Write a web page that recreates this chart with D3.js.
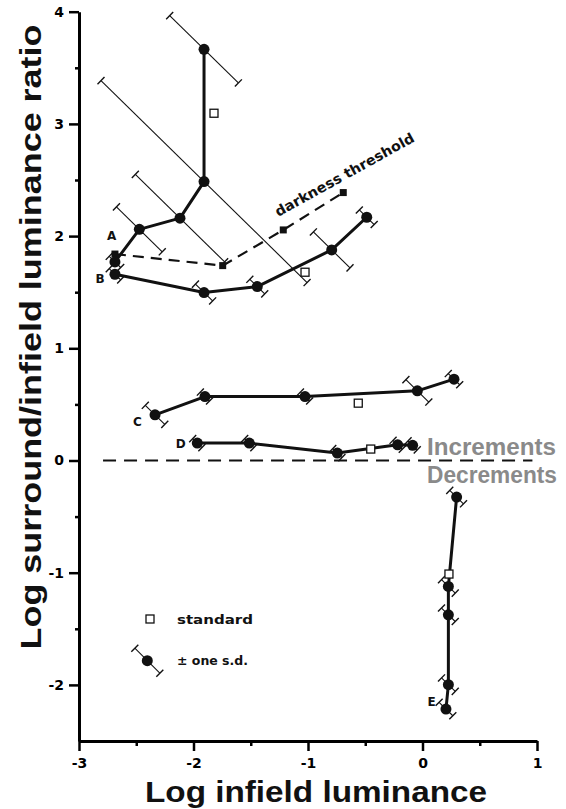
<!DOCTYPE html>
<html><head><meta charset="utf-8">
<script src="https://cdn.jsdelivr.net/npm/d3@7/dist/d3.min.js"></script>
<style>body{margin:0;background:#fff}svg{display:block}</style>
</head><body>
<svg id="chart" width="566" height="809"></svg>
<script>
// ---- data ----
const xTicks = [-3, -2, -1, 0, 1];
const xMinorTicks = [-2.5, -1.5, -0.5, 0.5];
const yTicks = [-2, -1, 0, 1, 2, 3, 4];
const yMinorTicks = [-1.5, -0.5, 0.5, 1.5, 2.5, 3.5];

const seriesA_x = [-2.686, -2.473, -2.118, -1.908, -1.908];
const seriesA_y = [1.77, 2.06, 2.16, 2.486, 3.665];
const seriesA_sd = [0.05, 0.2, 0.39, 0.9, 0.3];

const seriesB_x = [-2.686, -1.908, -1.443, -0.793, -0.487];
const seriesB_y = [1.66, 1.497, 1.55, 1.877, 2.168];
const seriesB_sd = [0.05, 0.075, 0.065, 0.16, 0.065];

const seriesC_x = [-2.336, -1.9, -1.026, -0.045, 0.275];
const seriesC_y = [0.407, 0.57, 0.57, 0.621, 0.725];
const seriesC_sd = [0.085, 0.04, 0.04, 0.1, 0.05];

const seriesD_x = [-1.967, -1.513, -0.744, -0.217, -0.086];
const seriesD_y = [0.155, 0.155, 0.066, 0.14, 0.135];
const seriesD_sd = [0.04, 0.04, 0.04, 0.04, 0.04];

const seriesE_x = [0.298, 0.226, 0.226, 0.226, 0.205];
const seriesE_y = [-0.326, -1.122, -1.375, -1.998, -2.215];
const seriesE_sd = [0.06, 0.06, 0.06, 0.06, 0.06];

const threshold_x = [-2.686, -1.745, -1.216, -0.692];
const threshold_y = [1.84, 1.737, 2.055, 2.388];

const standard_x = [-1.821, -1.026, -0.561, -0.452, 0.231];
const standard_y = [3.095, 1.678, 0.511, 0.102, -1.012];

const zeroLine_x = [-2.79, 0.96];
const zeroLine_y = [0, 0];

const curveLabels = ["A", "B", "C", "D", "E"];
const curveLabel_x = [-2.714, -2.817, -2.49, -2.112, 0.079];
const curveLabel_y = [2.0, 1.614, 0.339, 0.146, -2.156];

// ---- chart ----
const svg = d3.select("#chart");
const x = d3.scaleLinear().domain([-3, 1]).range([79, 537]);
const y = d3.scaleLinear().domain([-2.5, 4]).range([741, 11.7]);

const fontTick = "'DejaVu Sans', sans-serif";
const zip = (xs, ys, extra) => xs.map((v, i) => ({x: v, y: ys[i], sd: extra ? extra[i] : 0}));

// axes
const gx = svg.append("g").attr("transform", `translate(0,${y(-2.5)})`)
  .call(d3.axisBottom(x).tickValues(xTicks).tickFormat(d => String(d)).tickSize(10).tickSizeOuter(0).tickPadding(7));
const gxm = svg.append("g").attr("transform", `translate(0,${y(-2.5)})`)
  .call(d3.axisBottom(x).tickValues(xMinorTicks).tickFormat("").tickSize(5).tickSizeOuter(0));
gxm.select(".domain").remove();
const gy = svg.append("g").attr("transform", `translate(${x(-3)},0)`)
  .call(d3.axisLeft(y).tickValues(yTicks).tickFormat(d => String(d)).tickSize(10).tickSizeOuter(0).tickPadding(5));
const gym = svg.append("g").attr("transform", `translate(${x(-3)},0)`)
  .call(d3.axisLeft(y).tickValues(yMinorTicks).tickFormat("").tickSize(4).tickSizeOuter(0));
gym.select(".domain").remove();
[gx, gy].forEach(g => {
  g.select(".domain").attr("stroke", "#000").attr("stroke-width", 3);
  g.selectAll(".tick line").attr("stroke", "#000").attr("stroke-width", 2.5);
  g.selectAll(".tick text").attr("font-family", fontTick).attr("font-weight", "bold")
    .attr("font-size", 14).attr("fill", "#000");
});
[gxm, gym].forEach(g => g.selectAll(".tick line").attr("stroke", "#000").attr("stroke-width", 2.5));

// axis titles
svg.append("text").attr("x", 316).attr("y", 802)
  .attr("text-anchor", "middle").attr("font-family", "'Liberation Sans', Arial, sans-serif")
  .attr("font-weight", "bold").attr("font-size", 29).attr("textLength", 342)
  .attr("lengthAdjust", "spacingAndGlyphs").attr("fill", "#111").text("Log infield luminance");
svg.append("text").attr("transform", "translate(41,337) rotate(-90)")
  .attr("text-anchor", "middle").attr("font-family", "'Liberation Sans', Arial, sans-serif")
  .attr("font-weight", "bold").attr("font-size", 29).attr("textLength", 625)
  .attr("lengthAdjust", "spacingAndGlyphs").attr("fill", "#111").text("Log surround/infield luminance ratio");

// error bars along (+1,-1) direction in data units
const plot = svg.append("g");
function errorBars(data) {
  const g = plot.append("g");
  data.forEach(d => {
    if (!d.sd) return;
    const x1 = x(d.x - d.sd), y1 = y(d.y + d.sd), x2 = x(d.x + d.sd), y2 = y(d.y - d.sd);
    const len = Math.hypot(x2 - x1, y2 - y1);
    const px = -(y2 - y1) / len * 5, py = (x2 - x1) / len * 5;
    g.append("line").attr("x1", x1).attr("y1", y1).attr("x2", x2).attr("y2", y2)
      .attr("stroke", "#111").attr("stroke-width", 1.1);
    [[x1, y1], [x2, y2]].forEach(([cx, cy]) => g.append("line")
      .attr("x1", cx - px).attr("y1", cy - py).attr("x2", cx + px).attr("y2", cy + py)
      .attr("stroke", "#111").attr("stroke-width", 1.4));
  });
}
const series = [
  zip(seriesA_x, seriesA_y, seriesA_sd), zip(seriesB_x, seriesB_y, seriesB_sd),
  zip(seriesC_x, seriesC_y, seriesC_sd), zip(seriesD_x, seriesD_y, seriesD_sd),
  zip(seriesE_x, seriesE_y, seriesE_sd)
];
series.forEach(errorBars);

const line = d3.line().x(d => x(d.x)).y(d => y(d.y));
// zero dashed line
plot.append("path").datum(zip(zeroLine_x, zeroLine_y)).attr("d", line)
  .attr("fill", "none").attr("stroke", "#111").attr("stroke-width", 2.2).attr("stroke-dasharray", "13,8");
// darkness threshold
const thr = zip(threshold_x, threshold_y);
plot.append("path").datum(thr).attr("d", line)
  .attr("fill", "none").attr("stroke", "#111").attr("stroke-width", 2.2).attr("stroke-dasharray", "11,7");
plot.selectAll(".thr").data(thr).join("rect")
  .attr("x", d => x(d.x) - 3.5).attr("y", d => y(d.y) - 3.5).attr("width", 7).attr("height", 7).attr("fill", "#111");

// main series
series.forEach(s => {
  plot.append("path").datum(s).attr("d", line)
    .attr("fill", "none").attr("stroke", "#111").attr("stroke-width", 3).attr("stroke-linejoin", "round");
  plot.append("g").selectAll("circle").data(s).join("circle")
    .attr("cx", d => x(d.x)).attr("cy", d => y(d.y)).attr("r", 5.5).attr("fill", "#111");
});

// standards
plot.selectAll(".std").data(zip(standard_x, standard_y)).join("rect")
  .attr("x", d => x(d.x) - 4).attr("y", d => y(d.y) - 4).attr("width", 8).attr("height", 8)
  .attr("fill", "#fff").attr("stroke", "#111").attr("stroke-width", 1.3);

// curve labels
curveLabels.forEach((t, i) => {
  plot.append("text").attr("x", x(curveLabel_x[i])).attr("y", y(curveLabel_y[i]))
    .attr("text-anchor", "middle").attr("dominant-baseline", "central")
    .attr("font-family", fontTick).attr("font-weight", "bold").attr("font-size", 12).attr("fill", "#111").text(t);
});

// darkness threshold label
plot.append("text").attr("transform", `translate(${x(-1.26)},${y(2.17)}) rotate(-29)`)
  .attr("font-family", fontTick).attr("font-weight", "bold").attr("font-size", 14)
  .attr("textLength", 157).attr("lengthAdjust", "spacingAndGlyphs").attr("fill", "#111").text("darkness threshold");

// Increments / Decrements (condensed look via vertical stretch)
svg.append("text").attr("transform", "translate(427,455) scale(1,1.1)")
  .attr("font-family", "'Liberation Sans', Arial, sans-serif").attr("font-weight", "bold").attr("font-size", 22.5)
  .attr("textLength", 129).attr("lengthAdjust", "spacingAndGlyphs").attr("fill", "#8a8a8a").text("Increments");
svg.append("text").attr("transform", "translate(427,483) scale(1,1.1)")
  .attr("font-family", "'Liberation Sans', Arial, sans-serif").attr("font-weight", "bold").attr("font-size", 22.5)
  .attr("textLength", 130).attr("lengthAdjust", "spacingAndGlyphs").attr("fill", "#8a8a8a").text("Decrements");

// legend
const lg = svg.append("g").attr("transform", "translate(150,619)");
lg.append("rect").attr("x", -4).attr("y", -4).attr("width", 8).attr("height", 8)
  .attr("fill", "#fff").attr("stroke", "#111").attr("stroke-width", 1.3);
lg.append("text").attr("x", 27).attr("y", 4.5).attr("font-family", fontTick).attr("font-weight", "bold")
  .attr("font-size", 13).attr("textLength", 76).attr("lengthAdjust", "spacingAndGlyphs").attr("fill", "#111").text("standard");
const lc = lg.append("g").attr("transform", "translate(-2.7,41.7)");
lc.append("line").attr("x1", -12.5).attr("y1", -12.5).attr("x2", 12.5).attr("y2", 12.5).attr("stroke", "#111").attr("stroke-width", 1.1);
[[-12.5, -12.5], [12.5, 12.5]].forEach(([cx, cy]) => lc.append("line")
  .attr("x1", cx - 3.5).attr("y1", cy + 3.5).attr("x2", cx + 3.5).attr("y2", cy - 3.5).attr("stroke", "#111").attr("stroke-width", 1.4));
lc.append("circle").attr("r", 5.5).attr("fill", "#111");
lg.append("text").attr("x", 27).attr("y", 46).attr("font-family", fontTick).attr("font-weight", "bold")
  .attr("font-size", 13).attr("textLength", 71).attr("lengthAdjust", "spacingAndGlyphs").attr("fill", "#111").text("± one s.d.");
</script>
</body></html>
